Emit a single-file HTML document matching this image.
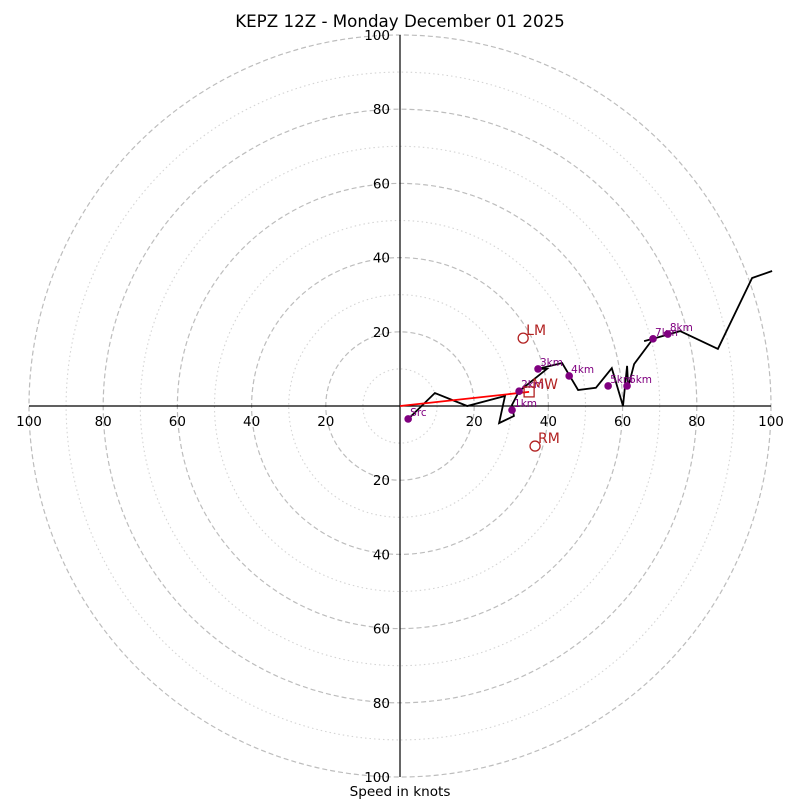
<!DOCTYPE html>
<html><head><meta charset="utf-8"><style>
body{margin:0;background:#fff;}
svg text{font-family:"DejaVu Sans","Liberation Sans",sans-serif;}
</style></head><body>
<svg id="chart" width="800" height="800" viewBox="0 0 800 800">
<text x="400" y="27" text-anchor="middle" font-size="16.7">KEPZ 12Z - Monday December 01 2025</text>
<g id="rings"></g>
<g id="axes"></g>
<g id="trace"></g>
<g id="markers"></g>
<text x="400" y="796" text-anchor="middle" font-size="13.6">Speed in knots</text>
</svg>
<script>
const ringValues = [10,20,30,40,50,60,70,80,90,100];
const tickLabels = [20,40,60,80,100];
const traceU = [2.2,9.4,18.1,28.3,26.7,30.7,30.2,32.1,39.6,37.2,43.7,48.0,52.8,57.1,60.1,61.2,61.5,63.1,68.2,65.8,68.2,75.5,85.7,94.9,100.3];
const traceV = [-3.5,3.5,0,2.7,-4.6,-2.7,0.3,4.0,10.0,10.0,11.6,4.3,4.9,10.2,0,10.8,5.1,11.3,18.1,17.5,18.1,20.2,15.4,34.5,36.4];
const markerLabels = ["Src","1km","2km","3km","4km","5km","6km","7km","8km"];
const markerU = [2.2,30.2,32.1,37.2,45.6,56.1,61.2,68.2,72.2];
const markerV = [-3.5,-1.1,4.0,10.0,8.1,5.4,5.4,18.1,19.4];
const motionLabels = ["LM","MW","RM"];
const motionU = [33.2,34.8,36.4];
const motionV = [18.3,3.8,-10.8];

const NS="http://www.w3.org/2000/svg";
const CX=400, CY=406, S=3.71;
const px=u=>CX+u*S, py=v=>CY-v*S;
function mk(tag,attrs,parent){const e=document.createElementNS(NS,tag);for(const k in attrs)e.setAttribute(k,attrs[k]);parent.appendChild(e);return e;}
const rings=document.getElementById('rings');
ringValues.forEach(r=>{
  const c=mk('circle',{cx:CX,cy:CY,r:r*S,fill:'none',stroke:r%20===0?'#bdbdbd':'#d4d4d4','stroke-width':r%20===0?1.2:1.1,'stroke-dasharray':r%20===0?'5,3':'1.5,3'},rings);
  
  
});
const axes=document.getElementById('axes');
const hx=mk('line',{x1:px(-100),y1:CY,x2:px(100),y2:CY,stroke:'#000','stroke-width':1.2},axes);


const vy=mk('line',{x1:CX,y1:py(100),x2:CX,y2:py(-100),stroke:'#000','stroke-width':1.2},axes);


tickLabels.forEach(t=>{
  [[px(t),CY+20,'middle'],[px(-t),CY+20,'middle'],[CX-10,py(t)+5,'end'],[CX-10,py(-t)+5,'end']].forEach((p,i)=>{
    const tx=mk('text',{x:p[0],y:p[1],'text-anchor':p[2],'font-size':13.5},axes);
    tx.textContent=t;
    
    
  });
});
const trace=document.getElementById('trace');
const pts=traceU.map((u,i)=>px(u).toFixed(1)+','+py(traceV[i]).toFixed(1)).join(' ');
const pl=mk('polyline',{points:pts,fill:'none',stroke:'#000','stroke-width':1.8,'stroke-linejoin':'miter'},trace);


const shear=mk('line',{x1:px(0),y1:py(0),x2:px(motionU[1]),y2:py(motionV[1]),stroke:'#ff0000','stroke-width':1.8},trace);


const markers=document.getElementById('markers');
markerU.forEach((u,i)=>{
  const c=mk('circle',{cx:px(u),cy:py(markerV[i]),r:3.8,fill:'#800080'},markers);
  
  
  const t=mk('text',{x:px(u)+2,y:py(markerV[i])-3,'font-size':10.5,fill:'#800080'},markers);
  t.textContent=markerLabels[i];
  
  
});
motionU.forEach((u,i)=>{
  const x=px(u),y=py(motionV[i]);
  let m;
  if(motionLabels[i]==='MW') m=mk('rect',{x:x-5,y:y-5,width:10,height:10,fill:'none',stroke:'#b22222','stroke-width':1.3},markers);
  else m=mk('circle',{cx:x,cy:y,r:5,fill:'none',stroke:'#b22222','stroke-width':1.3},markers);
  
  
  const t=mk('text',{x:x+3,y:y-3,'font-size':14,fill:'#b22222'},markers);
  t.textContent=motionLabels[i];
  
  
});
</script>
</body></html>
